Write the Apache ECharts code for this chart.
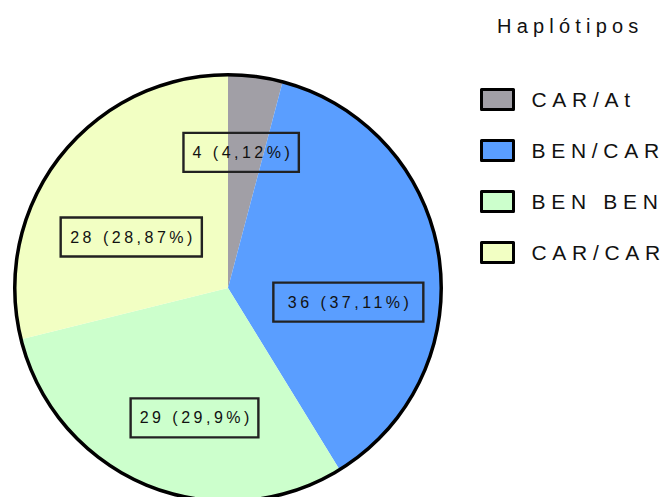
<!DOCTYPE html>
<html><head><meta charset="utf-8">
<script src="https://cdn.jsdelivr.net/npm/echarts@6/dist/echarts.min.js"></script>
<style>
html,body{margin:0;padding:0;background:#fff}
#chart{width:668px;height:497px}
#chart text[style*="21px"]{letter-spacing:5.7px}
#chart text[style*="20px"]{letter-spacing:5.2px}
#chart text[style*="16px"]{letter-spacing:3.5px}
</style></head><body><div id="chart"></div>
<script>
const categories = ['CAR/At', 'BEN/CAR', 'BEN BEN', 'CAR/CAR'];
const values = [4, 36, 29, 28];
const colors = ['#A19FA6', '#5A9EFF', '#CCFFCC', '#F2FFC3'];
const legendTitle = 'Haplótipos';

const FONT = 'Arial, "Liberation Sans", sans-serif';
const total = values.reduce((a, b) => a + b, 0);
function pct(v) {
  let s = (v / total * 100).toFixed(2);
  s = s.replace(/0+$/, '').replace(/\.$/, '');
  return s.replace('.', ',');
}
const LS = 3.5, P = 9;
const extraPad = [0, 5.5, 0, 0.5];
const pieData = categories.map((name, i) => {
  const txt = values[i] + ' (' + pct(values[i]) + '%)';
  const n = txt.length;
  const p = P + extraPad[i];
  return {
    name: name, value: values[i],
    itemStyle: { color: colors[i] },
    label: { padding: [11, n * LS / 2 - LS + p, 12, n * LS / 2 + p] }
  };
});

const chart = echarts.init(document.getElementById('chart'), null, { renderer: 'svg' });
chart.setOption({
  animation: false,
  backgroundColor: '#fff',
  title: {
    text: legendTitle, left: 497, top: 16, padding: 0,
    textStyle: { fontSize: 20, fontWeight: 'normal', color: '#111', fontFamily: FONT }
  },
  legend: {
    orient: 'vertical', left: 480, top: 88, padding: 0, itemGap: 28,
    itemWidth: 32, itemHeight: 20, icon: 'rect', data: categories, selectedMode: false,
    itemStyle: { borderColor: '#000', borderWidth: 3 },
    textStyle: { fontSize: 21, fontFamily: FONT, color: '#111', padding: [0, 0, 0, 13] }
  },
  series: [
    {
      type: 'pie', center: [228, 288], radius: [0, 213], startAngle: 90, clockwise: true,
      silent: true, data: pieData,
      itemStyle: { borderWidth: 0 },
      label: {
        show: true, position: 'inside', color: '#111', fontSize: 16, fontFamily: FONT,
        textBorderWidth: 0, borderColor: '#222', borderWidth: 1.2, backgroundColor: 'transparent',
        formatter: p => p.value + ' (' + pct(p.value) + '%)'
      },
      labelLine: { show: false },
      labelLayout: function (params) {
        const off = [[-1, -27], [12, 30], [8, 28.5], [-10.5, 16.5]][params.dataIndex];
        return { dx: off[0], dy: off[1] };
      },
      emphasis: { disabled: true }
    },
    {
      type: 'pie', center: [228, 288], radius: [211.5, 215], silent: true,
      data: [{ name: 'outline', value: total, itemStyle: { color: '#000' } }],
      label: { show: false }, labelLine: { show: false }, emphasis: { disabled: true }
    }
  ]
});
</script></body></html>
